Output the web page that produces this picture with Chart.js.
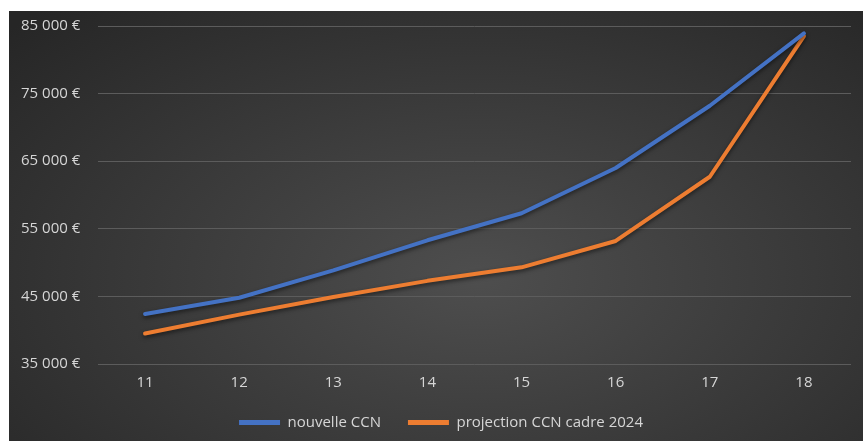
<!DOCTYPE html>
<html>
<head>
<meta charset="utf-8">
<script src="https://cdn.jsdelivr.net/npm/chart.js@4.4.0/dist/chart.umd.min.js"></script>
<style>
  html, body { margin: 0; padding: 0; background: #ffffff; }
  #wrap { position: absolute; left: 9px; top: 11px; width: 854px; height: 430px; }
  #salaryChart {
    display: block;
    background: radial-gradient(ellipse 75% 85% at 55% 62%, #4e4e4e 0%, #3a3a3a 50%, #262626 100%);
  }
</style>
</head>
<body>
<div id="wrap"><canvas id="salaryChart" width="854" height="430"></canvas></div>
<script>
// valeurs
const categories = ["11", "12", "13", "14", "15", "16", "17", "18"];
const nouvelleCCN = [42400, 44800, 48850, 53300, 57300, 64000, 73200, 83900];
const projectionCCN = [39500, 42300, 44900, 47300, 49300, 53200, 62700, 83500];
const yTicks = [35000, 45000, 55000, 65000, 75000, 85000];

const textColor = "#d6d6d6";
const fontFamily = "'Open Sans', 'Noto Sans', sans-serif";
const legendShift = 5;

const formatEuro = (v) => {
  const s = String(Math.round(v));
  return s.replace(/\B(?=(\d{3})+(?!\d))/g, " ") + " €";
};

// ombre légère sous les courbes
const lineShadow = {
  id: "lineShadow",
  beforeDatasetsDraw(chart) {
    const ctx = chart.ctx;
    ctx.save();
    ctx.shadowColor = "rgba(0,0,0,0.55)";
    ctx.shadowBlur = 4;
    ctx.shadowOffsetY = 2;
  },
  afterDatasetsDraw(chart) {
    chart.ctx.restore();
  }
};

// décale un peu la légende vers la droite
const legendNudge = {
  id: "legendNudge",
  afterLayout(chart) {
    if (chart.legend) {
      chart.legend.left += legendShift;
      chart.legend.right += legendShift;
    }
  }
};

const ctx = document.getElementById("salaryChart").getContext("2d");

new Chart(ctx, {
  type: "line",
  data: {
    labels: categories,
    datasets: [
      {
        label: "nouvelle CCN",
        data: nouvelleCCN,
        borderColor: "#4472C4",
        backgroundColor: "#4472C4",
        borderWidth: 4,
        pointRadius: 0,
        tension: 0,
        borderJoinStyle: "round",
        borderCapStyle: "round"
      },
      {
        label: "projection CCN cadre 2024",
        data: projectionCCN,
        borderColor: "#ED7D31",
        backgroundColor: "#ED7D31",
        borderWidth: 4,
        pointRadius: 0,
        tension: 0,
        borderJoinStyle: "round",
        borderCapStyle: "round"
      }
    ]
  },
  options: {
    responsive: false,
    animation: false,
    layout: {
      padding: { top: 15, right: 12, bottom: 1, left: 12 }
    },
    plugins: {
      tooltip: { enabled: false },
      legend: {
        position: "bottom",
        labels: {
          color: textColor,
          font: { family: fontFamily, size: 15 },
          boxWidth: 41,
          boxHeight: 5,
          padding: 27,
          generateLabels(chart) {
            const items = Chart.defaults.plugins.legend.labels.generateLabels(chart);
            items.forEach((it) => { it.lineWidth = 0; });
            return items;
          }
        }
      }
    },
    scales: {
      x: {
        offset: true,
        grid: { display: false, drawTicks: false },
        border: { display: false },
        ticks: {
          color: textColor,
          font: { family: fontFamily, size: 15 },
          padding: 10
        },
        afterFit(scale) { scale.height = 24; }
      },
      y: {
        min: 35000,
        max: 85000,
        afterBuildTicks(scale) {
          scale.ticks = yTicks.map((v) => ({ value: v }));
        },
        grid: { color: "#5c5c5c", lineWidth: 1, drawTicks: false },
        border: { display: false },
        ticks: {
          color: textColor,
          font: { family: fontFamily, size: 15 },
          padding: 0,
          crossAlign: "far",
          callback: (v) => formatEuro(v)
        },
        afterFit(scale) { scale.width = 77; }
      }
    }
  },
  plugins: [lineShadow, legendNudge]
});
</script>
</body>
</html>
